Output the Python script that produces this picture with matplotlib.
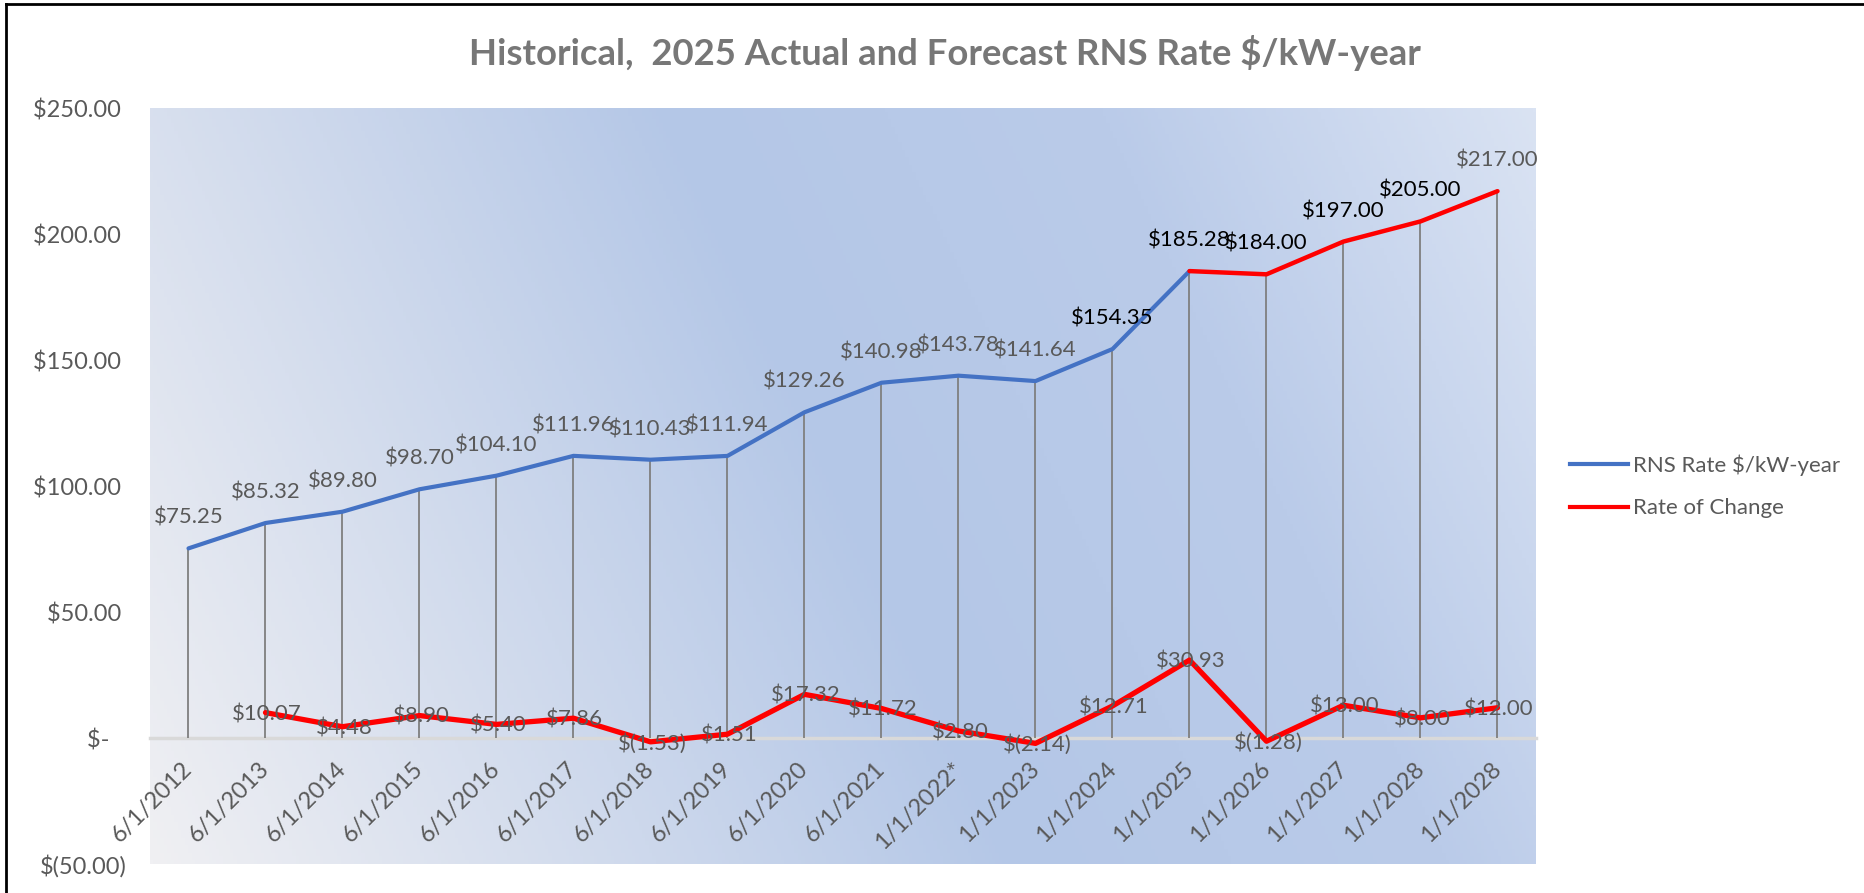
import numpy as np
import matplotlib
matplotlib.use('Agg')
import matplotlib.pyplot as plt
from matplotlib.lines import Line2D

plt.rcParams['font.family'] = ['Lato', 'DejaVu Sans']

# chart data
dates = ['6/1/2012', '6/1/2013', '6/1/2014', '6/1/2015', '6/1/2016', '6/1/2017',
         '6/1/2018', '6/1/2019', '6/1/2020', '6/1/2021', '1/1/2022*', '1/1/2023',
         '1/1/2024', '1/1/2025', '1/1/2026', '1/1/2027', '1/1/2028', '1/1/2028']
rns_rate = [75.25, 85.32, 89.80, 98.70, 104.10, 111.96, 110.43, 111.94, 129.26,
            140.98, 143.78, 141.64, 154.35, 185.28, 184.00, 197.00, 205.00, 217.00]
rate_change = [np.nan, 10.07, 4.48, 8.90, 5.40, 7.86, -1.53, 1.51, 17.32,
               11.72, 2.80, -2.14, 12.71, 30.93, -1.28, 13.00, 8.00, 12.00]
forecast_start = '1/1/2025'
dark_labels = ['1/1/2024', '1/1/2025', '1/1/2026', '1/1/2027']
y_ticks = [-50, 0, 50, 100, 150, 200, 250]

BLUE = '#4472C4'
RED = '#FF0000'
GRAY = '#595959'


def money(v):
    if v < 0:
        return f'$({-v:,.2f})'
    return f'${v:,.2f}'


def money_tick(v):
    # accounting style: zero as a dash, positives padded for the ")"
    if v == 0:
        return '$-   '
    if v < 0:
        return money(v)
    return money(v) + ' '


W, H = 1865, 893
fig = plt.figure(figsize=(W / 100, H / 100), dpi=100)
rect = [150 / W, 1 - 864 / H, (1536 - 150) / W, (864 - 108) / H]

# gradient fill behind the plot area
bg = fig.add_axes(rect, zorder=0)
xs = np.linspace(0, 1, 400)
ys = np.linspace(1, 0, 200)
gx, gy = np.meshgrid(xs, ys)
t = 0.8 * gx + 0.2 * gy
stops = [0.0, 0.5, 0.75, 1.0]
cols = np.array([[240, 240, 243], [180, 199, 231], [186, 203, 233], [218, 227, 243]]) / 255
img = np.dstack([np.interp(t, stops, cols[:, k]) for k in range(3)])
bg.imshow(img, aspect='auto', extent=(0, 1, 0, 1))
bg.axis('off')

ax = fig.add_axes(rect, zorder=1)
ax.set_facecolor('none')
x = np.arange(len(dates))
fi = dates.index(forecast_start)

# drop lines
ax.vlines(x, 0, rns_rate, color='#7f7f7f', lw=1.3, zorder=2)

ax.plot(x[:fi + 1], rns_rate[:fi + 1], color=BLUE, lw=3.0, solid_capstyle='round', zorder=3)
ax.plot(x[fi:], rns_rate[fi:], color=RED, lw=3.2, solid_capstyle='round', zorder=3)
ax.plot(x, rate_change, color=RED, lw=3.8, solid_capstyle='round', zorder=3)

for i, v in enumerate(rns_rate):
    c = 'black' if dates[i] in dark_labels or i == len(dates) - 2 else GRAY
    ax.annotate(money(v), (i, v), xytext=(0, 22), textcoords='offset points',
                ha='center', va='center', fontsize=16, color=c, zorder=4)
for i, v in enumerate(rate_change):
    if np.isnan(v):
        continue
    ax.annotate(money(v), (i, v), xytext=(1, -1), textcoords='offset points',
                ha='center', va='center', fontsize=16, color=GRAY, zorder=4)

ax.set_xlim(-0.5, len(dates) - 0.5)
ax.set_ylim(-50, 250)
ax.set_yticks(y_ticks)
ax.set_yticklabels([money_tick(v) for v in y_ticks])
ax.set_xticks(x)
ax.set_xticklabels(dates)
for s in ['top', 'right', 'left']:
    ax.spines[s].set_visible(False)
ax.spines['bottom'].set_position(('data', 0))
ax.spines['bottom'].set_color('#d9d9d9')
ax.spines['bottom'].set_linewidth(2.5)
ax.spines['bottom'].set_zorder(1)
ax.tick_params(axis='both', length=0, colors=GRAY, labelsize=17)
ax.tick_params(axis='y', pad=16.5)
ax.tick_params(axis='x', pad=20)
plt.setp(ax.get_xticklabels(), rotation=45, ha='right', va='center', rotation_mode='anchor')

fig.text(945 / W, 1 - 53 / H, 'Historical,  2025 Actual and Forecast RNS Rate $/kW-year',
         ha='center', va='center', fontsize=26.3, fontweight='bold', color='#777777')

handles = [Line2D([], [], color=BLUE, lw=3.0), Line2D([], [], color=RED, lw=3.0)]
leg = fig.legend(handles, ['RNS Rate $/kW-year', 'Rate of Change'], loc='center left',
                 bbox_to_anchor=(1570 / W, 1 - 486.5 / H), frameon=False, fontsize=16,
                 labelspacing=1.0, handlelength=2.6, handletextpad=0.25,
                 borderpad=0, borderaxespad=0)
for txt in leg.get_texts():
    txt.set_color(GRAY)

# outer frame (top and left edges visible in the reference)
fig.add_artist(Line2D([6 / W, 6 / W], [0, 1 - 4 / H], color='black', lw=2))
fig.add_artist(Line2D([6 / W, 1], [1 - 4 / H, 1 - 4 / H], color='black', lw=2))

fig.savefig('out.png', dpi=100)
